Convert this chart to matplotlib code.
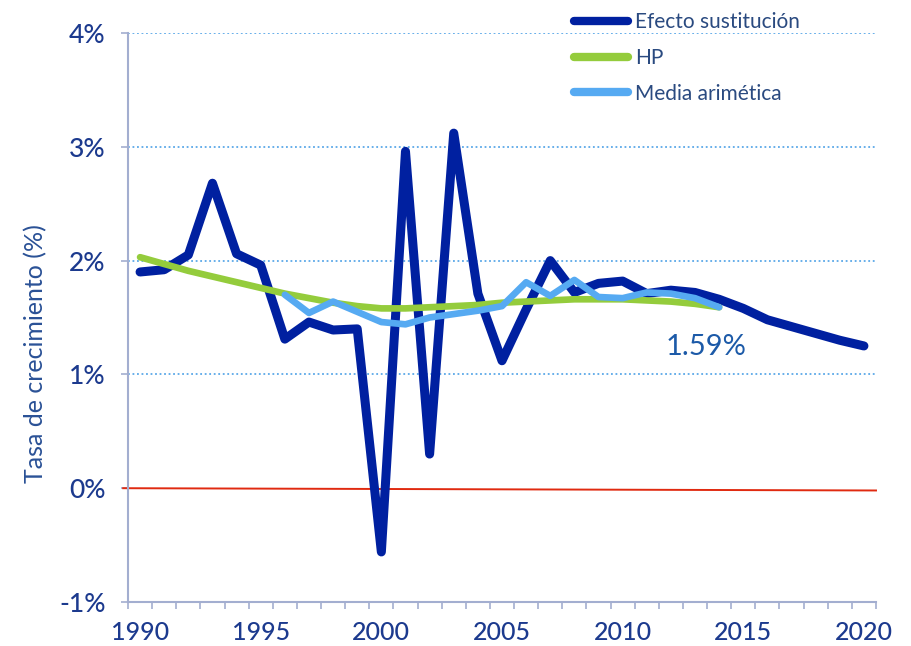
import matplotlib
matplotlib.use("Agg")
import matplotlib.pyplot as plt
import numpy as np

plt.rcParams['font.family'] = ['Lato', 'DejaVu Sans']

# Data
years = list(range(1990, 2021))
efecto = [1.90, 1.92, 2.05, 2.68, 2.06, 1.96, 1.31, 1.46, 1.39, 1.40,
          -0.56, 2.96, 0.30, 3.12, 1.71, 1.12, 1.57, 2.00, 1.72, 1.80,
          1.82, 1.71, 1.74, 1.72, 1.66, 1.58, 1.48, 1.42, 1.36, 1.30, 1.25]

hp_years = list(range(1990, 2015))
hp = [2.03, 1.97, 1.91, 1.86, 1.81, 1.76, 1.71, 1.67, 1.63, 1.60,
      1.58, 1.58, 1.59, 1.60, 1.61, 1.63, 1.64, 1.65, 1.66, 1.66,
      1.66, 1.65, 1.64, 1.62, 1.59]

media_years = list(range(1996, 2015))
media = [1.70, 1.54, 1.64, 1.55, 1.46, 1.44, 1.50, 1.53, 1.56, 1.60,
         1.81, 1.69, 1.83, 1.68, 1.67, 1.72, 1.71, 1.67, 1.59]

zero_x = [1989.3, 2020.5]
zero_y = [0.0, -0.02]

yticks = [-1, 0, 1, 2, 3, 4]
xlabels = [1990, 1995, 2000, 2005, 2010, 2015, 2020]

c_dark = '#0020a0'
c_green = '#94cc3c'
c_light = '#56aaf2'
c_text = '#1c3a8e'
c_axis = '#a3aed0'

f = plt.figure(figsize=(9.12, 6.46), dpi=100)
ax = f.add_axes([128 / 912, 1 - 602 / 646, (876 - 128) / 912, (602 - 33) / 646])

# dotted gridlines
for v in [1, 2, 3, 4]:
    ax.axhline(v, color='#5aa8e8', lw=1.3, ls=(0, (1, 1.5)), zorder=1)

ax.plot(zero_x, zero_y, color='#e02a10', lw=1.4, zorder=2, clip_on=False)

ax.plot(years, efecto, color=c_dark, lw=6.5, solid_joinstyle='round',
        solid_capstyle='round', label='Efecto sustitución', zorder=3)
ax.plot(hp_years, hp, color=c_green, lw=4.8, solid_capstyle='round',
        label='HP', zorder=4)
ax.plot(media_years, media, color=c_light, lw=4.8, solid_capstyle='round',
        solid_joinstyle='round', label='Media arimética', zorder=5)

ax.text(2013.45, 1.24, '1.59%', color='#1c5aa8', fontsize=21, ha='center', va='center')

ax.set_xlim(1989.5, 2020.5)
ax.set_ylim(-1, 4)

ax.set_yticks(yticks)
ax.set_yticklabels(['%d%%' % v for v in yticks])
ax.set_xticks(xlabels)
ax.set_xticklabels([str(v) for v in xlabels])
ax.set_xticks(np.arange(1989.5, 2021, 1), minor=True)

ax.tick_params(axis='y', colors=c_axis, labelcolor=c_text, labelsize=19,
               length=5, width=1.2, pad=11)
ax.tick_params(axis='x', which='major', length=0, labelcolor=c_text,
               labelsize=18, pad=14)
ax.tick_params(axis='x', which='minor', colors=c_axis, length=5, width=1.2)
for lab in ax.get_xticklabels() + ax.get_yticklabels():
    lab.set_fontweight('medium')

for s in ['top', 'right']:
    ax.spines[s].set_visible(False)
for s in ['left', 'bottom']:
    ax.spines[s].set_color(c_axis)
    ax.spines[s].set_linewidth(1.5)

ax.set_ylabel('Tasa de crecimiento (%)', color='#2a5196', fontsize=18)
ax.yaxis.set_label_coords(-0.108, 0.436)

leg = ax.legend(loc='upper left', bbox_to_anchor=(566 / 912, 1 - 4 / 646),
                bbox_transform=f.transFigure, frameon=False, fontsize=15,
                handlelength=2.6, handletextpad=0.3, labelspacing=0.75,
                borderaxespad=0)
for t in leg.get_texts():
    t.set_color('#2a4a80')
for h in leg.get_lines():
    h.set_linewidth(6)

plt.savefig("out.png", dpi=100)
plt.close(f)
